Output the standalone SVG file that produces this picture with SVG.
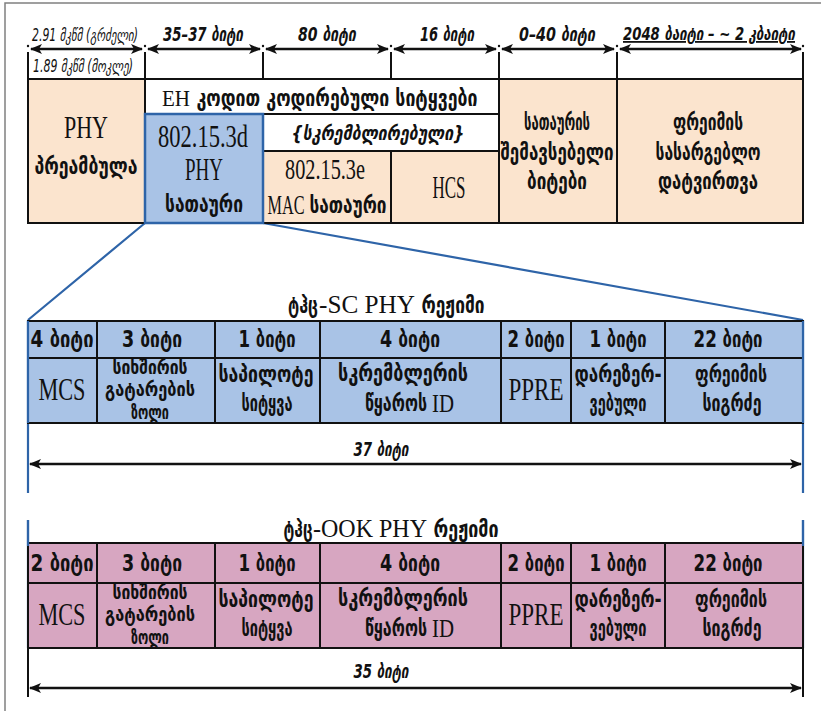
<svg xmlns="http://www.w3.org/2000/svg" width="821" height="711" viewBox="0 0 821 711">
<style>
.ge{font-family:'DejaVu Sans Condensed','DejaVu Sans',sans-serif;font-weight:bold;font-size:23px;fill:#111;text-anchor:middle}
.gs{font-size:20px}
.g3{font-size:19px}
.it{font-style:italic}
.lt{font-weight:normal;font-size:17px}
.tm{font-family:'Liberation Serif','Times New Roman',serif;font-weight:normal;font-size:31px;fill:#111;text-anchor:middle}
.tt{font-size:26px}
.peach{fill:#FBE4CE;stroke:#111;stroke-width:2}
.white{fill:#fff;stroke:#111;stroke-width:2}
.blue{fill:#A9C3E6;stroke:#111;stroke-width:2}
.pink{fill:#D7A6C1;stroke:#111;stroke-width:2}
.ln{stroke:#111;stroke-width:2;fill:none}
.bl{stroke:#2E64A8;stroke-width:2.2;fill:none}
.arr{stroke:#111;stroke-width:2.5;fill:none;marker-start:url(#ah);marker-end:url(#ah)}
</style>
<defs>
<marker id="ah" viewBox="0 0 12 10" refX="11" refY="5" markerWidth="13" markerHeight="10" markerUnits="userSpaceOnUse" orient="auto-start-reverse"><path d="M0,0 L12,5 L0,10 L3,5 z" fill="#111"/></marker>
</defs>
<rect width="821" height="711" fill="#fff"/>
<path d="M5,711 V3 H821" fill="none" stroke="#808080" stroke-width="1.5"/>

<g id="top-dimensions">
<g fill="#111"><circle cx="28" cy="46" r="1.2"/><circle cx="145" cy="46" r="1.2"/><circle cx="263" cy="46" r="1.2"/><circle cx="391" cy="46" r="1.2"/><circle cx="499" cy="46" r="1.2"/><circle cx="617" cy="46" r="1.2"/><circle cx="803" cy="46" r="1.2"/></g>
<path class="ln" d="M28,52 V79 M145,52 V79 M263,52 V79 M391,52 V79 M499,52 V79 M617,52 V79 M803,52 V79"/>
<text class="ge it lt" x="85" y="41" textLength="106" lengthAdjust="spacingAndGlyphs">2.91 მკწმ (გრძელი)</text>
<text class="ge it lt" x="83" y="72" textLength="100" lengthAdjust="spacingAndGlyphs">1.89 მკწმ (მოკლე)</text>
<text class="ge it gs" x="203" y="41" textLength="80" lengthAdjust="spacingAndGlyphs">35–37 ბიტი</text>
<text class="ge it gs" x="327" y="41" textLength="58" lengthAdjust="spacingAndGlyphs">80 ბიტი</text>
<text class="ge it gs" x="447" y="41" textLength="54" lengthAdjust="spacingAndGlyphs">16 ბიტი</text>
<text class="ge it gs" x="557" y="41" textLength="76" lengthAdjust="spacingAndGlyphs">0–40 ბიტი</text>
<text class="ge it" x="709" y="40" textLength="172" lengthAdjust="spacingAndGlyphs" style="font-size:18px;text-decoration:underline">2048 ბაიტი – ~ 2 კბაიტი</text>
</g>

<g id="connectors">
<path class="arr" d="M31,49 H142"/>
<path class="arr" d="M148,49 H260"/>
<path class="arr" d="M266,49 H388"/>
<path class="arr" d="M394,49 H496"/>
<path class="arr" d="M502,49 H614"/>
<path class="arr" d="M620,49 H801"/>
<path class="bl" d="M145,223 L28,320 M263,223 L803,320"/>
<path class="bl" d="M28,320 V493 M803,320 V493"/>
<path class="arr" d="M30,464 H801"/>
<path class="bl" d="M28,520 V648 M803,520 V648"/>
<path class="ln" d="M28,648 V697 M803,648 V697"/>
<path class="arr" d="M30,688 H801"/>
</g>

<g id="row-label-line"><path class="ln" d="M28,79 H803"/></g>

<g id="phy-preamble">
<rect class="peach" x="28" y="79" width="117" height="144"/>
<text class="tm" x="86" y="138" textLength="44" lengthAdjust="spacingAndGlyphs">PHY</text>
<text class="ge" x="86" y="174" textLength="103" lengthAdjust="spacingAndGlyphs">პრეამბულა</text>
</g>
<g id="eh-coded">
<rect class="white" x="145" y="79" width="354" height="35"/>
<text class="tm" x="176" y="106" textLength="28" lengthAdjust="spacingAndGlyphs" style="font-size:23px">EH</text>
<text class="ge" x="337" y="106" textLength="281" lengthAdjust="spacingAndGlyphs">კოდით კოდირებული სიტყვები</text>
</g>
<g id="scrambled">
<rect class="white" x="263" y="114" width="236" height="37"/>
<text class="ge it gs" x="378" y="140" textLength="173" lengthAdjust="spacingAndGlyphs">{სკრემბლირებული}</text>
</g>
<g id="mac-header">
<rect class="peach" x="263" y="151" width="128" height="72"/>
<text class="tm" x="325" y="179" textLength="80" lengthAdjust="spacingAndGlyphs" style="font-size:29px">802.15.3e</text>
<text class="tm" x="286" y="214" textLength="37" lengthAdjust="spacingAndGlyphs" style="font-size:27px">MAC</text>
<text class="ge" x="348" y="213" textLength="77" lengthAdjust="spacingAndGlyphs">სათაური</text>
</g>
<g id="hcs">
<rect class="peach" x="391" y="151" width="108" height="72"/>
<text class="tm" x="449" y="198" textLength="33" lengthAdjust="spacingAndGlyphs">HCS</text>
</g>
<g id="header-padding">
<rect class="peach" x="499" y="79" width="118" height="144"/>
<text class="ge" x="557" y="130" textLength="66" lengthAdjust="spacingAndGlyphs">სათაურის</text>
<text class="ge" x="557" y="160" textLength="113" lengthAdjust="spacingAndGlyphs">შემავსებელი</text>
<text class="ge" x="557" y="189" textLength="60" lengthAdjust="spacingAndGlyphs">ბიტები</text>
</g>
<g id="frame-payload">
<rect class="peach" x="617" y="79" width="186" height="144"/>
<text class="ge" x="708" y="130" textLength="70" lengthAdjust="spacingAndGlyphs">ფრეიმის</text>
<text class="ge" x="708" y="160" textLength="105" lengthAdjust="spacingAndGlyphs">სასარგებლო</text>
<text class="ge" x="708" y="189" textLength="100" lengthAdjust="spacingAndGlyphs">დატვირთვა</text>
</g>
<g id="phy-header">
<rect x="145" y="114" width="118" height="109" fill="#A9C3E6" stroke="#2E64A8" stroke-width="2.5"/>
<text class="tm" x="203" y="147" textLength="90" lengthAdjust="spacingAndGlyphs">802.15.3d</text>
<text class="tm" x="204" y="180" textLength="38" lengthAdjust="spacingAndGlyphs">PHY</text>
<text class="ge" x="204" y="212" textLength="78" lengthAdjust="spacingAndGlyphs">სათაური</text>
</g>

<g id="sc-mode">
<text class="ge" x="303" y="313" textLength="30" lengthAdjust="spacingAndGlyphs">ტჰც</text>
<text class="tm tt" x="367" y="313" textLength="96" lengthAdjust="spacingAndGlyphs">-SC PHY</text>
<text class="ge" x="453" y="313" textLength="63" lengthAdjust="spacingAndGlyphs">რეჟიმი</text>
<g id="sc-mcs"><rect class="blue" x="28" y="321" width="69" height="37"/><rect class="blue" x="28" y="358" width="69" height="65"/>
<text class="ge" x="62" y="347" textLength="63" lengthAdjust="spacingAndGlyphs">4 ბიტი</text>
<text class="tm" x="62" y="400" textLength="47" lengthAdjust="spacingAndGlyphs">MCS</text></g>
<g id="sc-band"><rect class="blue" x="97" y="321" width="118" height="37"/><rect class="blue" x="97" y="358" width="118" height="65"/>
<text class="ge" x="152" y="347" textLength="60" lengthAdjust="spacingAndGlyphs">3 ბიტი</text>
<text class="ge g3" x="150" y="374" textLength="75" lengthAdjust="spacingAndGlyphs">სიხშირის</text>
<text class="ge g3" x="150" y="396" textLength="90" lengthAdjust="spacingAndGlyphs">გატარების</text>
<text class="ge g3" x="150" y="419" textLength="38" lengthAdjust="spacingAndGlyphs">ზოლი</text></g>
<g id="sc-pilot"><rect class="blue" x="215" y="321" width="105" height="37"/><rect class="blue" x="215" y="358" width="105" height="65"/>
<text class="ge" x="267" y="347" textLength="57" lengthAdjust="spacingAndGlyphs">1 ბიტი</text>
<text class="ge" x="266" y="382" textLength="95" lengthAdjust="spacingAndGlyphs">საპილოტე</text>
<text class="ge" x="267" y="411" textLength="51" lengthAdjust="spacingAndGlyphs">სიტყვა</text></g>
<g id="sc-scrambler"><rect class="blue" x="320" y="321" width="181" height="37"/><rect class="blue" x="320" y="358" width="181" height="65"/>
<text class="ge" x="410" y="347" textLength="60" lengthAdjust="spacingAndGlyphs">4 ბიტი</text>
<text class="ge" x="403" y="381" textLength="130" lengthAdjust="spacingAndGlyphs">სკრემბლერის</text>
<text class="ge" x="396" y="411" textLength="62" lengthAdjust="spacingAndGlyphs">წყაროს</text>
<text class="tm" x="443" y="412" textLength="22" lengthAdjust="spacingAndGlyphs" style="font-size:25px">ID</text></g>
<g id="sc-ppre"><rect class="blue" x="501" y="321" width="70" height="37"/><rect class="blue" x="501" y="358" width="70" height="65"/>
<text class="ge" x="536" y="347" textLength="57" lengthAdjust="spacingAndGlyphs">2 ბიტი</text>
<text class="tm" x="536" y="400" textLength="55" lengthAdjust="spacingAndGlyphs">PPRE</text></g>
<g id="sc-reserved"><rect class="blue" x="571" y="321" width="94" height="37"/><rect class="blue" x="571" y="358" width="94" height="65"/>
<text class="ge" x="618" y="347" textLength="57" lengthAdjust="spacingAndGlyphs">1 ბიტი</text>
<text class="ge" x="618" y="382" textLength="87" lengthAdjust="spacingAndGlyphs">დარეზერ-</text>
<text class="ge" x="618" y="411" textLength="57" lengthAdjust="spacingAndGlyphs">ვებული</text></g>
<g id="sc-length"><rect class="blue" x="665" y="321" width="138" height="37"/><rect class="blue" x="665" y="358" width="138" height="65"/>
<text class="ge" x="728" y="347" textLength="69" lengthAdjust="spacingAndGlyphs">22 ბიტი</text>
<text class="ge" x="731" y="382" textLength="72" lengthAdjust="spacingAndGlyphs">ფრეიმის</text>
<text class="ge" x="732" y="411" textLength="59" lengthAdjust="spacingAndGlyphs">სიგრძე</text></g>
<path class="bl" d="M28,321 V423 M803,321 V423"/>
<text class="ge it gs" x="381" y="456" textLength="55" lengthAdjust="spacingAndGlyphs">37 ბიტი</text>
</g>

<g id="ook-mode">
<text class="ge" x="298" y="537" textLength="29" lengthAdjust="spacingAndGlyphs">ტჰც</text>
<text class="tm tt" x="370" y="537" textLength="114" lengthAdjust="spacingAndGlyphs">-OOK PHY</text>
<text class="ge" x="466" y="537" textLength="65" lengthAdjust="spacingAndGlyphs">რეჟიმი</text>
<g id="ook-mcs"><rect class="pink" x="28" y="543" width="69" height="40"/><rect class="pink" x="28" y="583" width="69" height="65"/>
<text class="ge" x="62" y="571" textLength="63" lengthAdjust="spacingAndGlyphs">2 ბიტი</text>
<text class="tm" x="62" y="625" textLength="47" lengthAdjust="spacingAndGlyphs">MCS</text></g>
<g id="ook-band"><rect class="pink" x="97" y="543" width="118" height="40"/><rect class="pink" x="97" y="583" width="118" height="65"/>
<text class="ge" x="152" y="571" textLength="60" lengthAdjust="spacingAndGlyphs">3 ბიტი</text>
<text class="ge g3" x="150" y="599" textLength="75" lengthAdjust="spacingAndGlyphs">სიხშირის</text>
<text class="ge g3" x="150" y="621" textLength="90" lengthAdjust="spacingAndGlyphs">გატარების</text>
<text class="ge g3" x="150" y="644" textLength="38" lengthAdjust="spacingAndGlyphs">ზოლი</text></g>
<g id="ook-pilot"><rect class="pink" x="215" y="543" width="105" height="40"/><rect class="pink" x="215" y="583" width="105" height="65"/>
<text class="ge" x="267" y="571" textLength="57" lengthAdjust="spacingAndGlyphs">1 ბიტი</text>
<text class="ge" x="266" y="607" textLength="95" lengthAdjust="spacingAndGlyphs">საპილოტე</text>
<text class="ge" x="267" y="636" textLength="51" lengthAdjust="spacingAndGlyphs">სიტყვა</text></g>
<g id="ook-scrambler"><rect class="pink" x="320" y="543" width="181" height="40"/><rect class="pink" x="320" y="583" width="181" height="65"/>
<text class="ge" x="410" y="571" textLength="60" lengthAdjust="spacingAndGlyphs">4 ბიტი</text>
<text class="ge" x="403" y="606" textLength="130" lengthAdjust="spacingAndGlyphs">სკრემბლერის</text>
<text class="ge" x="396" y="636" textLength="62" lengthAdjust="spacingAndGlyphs">წყაროს</text>
<text class="tm" x="443" y="637" textLength="22" lengthAdjust="spacingAndGlyphs" style="font-size:25px">ID</text></g>
<g id="ook-ppre"><rect class="pink" x="501" y="543" width="70" height="40"/><rect class="pink" x="501" y="583" width="70" height="65"/>
<text class="ge" x="536" y="571" textLength="57" lengthAdjust="spacingAndGlyphs">2 ბიტი</text>
<text class="tm" x="536" y="625" textLength="55" lengthAdjust="spacingAndGlyphs">PPRE</text></g>
<g id="ook-reserved"><rect class="pink" x="571" y="543" width="94" height="40"/><rect class="pink" x="571" y="583" width="94" height="65"/>
<text class="ge" x="618" y="571" textLength="57" lengthAdjust="spacingAndGlyphs">1 ბიტი</text>
<text class="ge" x="618" y="607" textLength="87" lengthAdjust="spacingAndGlyphs">დარეზერ-</text>
<text class="ge" x="618" y="636" textLength="57" lengthAdjust="spacingAndGlyphs">ვებული</text></g>
<g id="ook-length"><rect class="pink" x="665" y="543" width="138" height="40"/><rect class="pink" x="665" y="583" width="138" height="65"/>
<text class="ge" x="728" y="571" textLength="69" lengthAdjust="spacingAndGlyphs">22 ბიტი</text>
<text class="ge" x="731" y="607" textLength="72" lengthAdjust="spacingAndGlyphs">ფრეიმის</text>
<text class="ge" x="732" y="636" textLength="59" lengthAdjust="spacingAndGlyphs">სიგრძე</text></g>
<path class="bl" d="M28,520 V546 M803,520 V546"/>
<text class="ge it gs" x="381" y="678" textLength="55" lengthAdjust="spacingAndGlyphs">35 ბიტი</text>
</g>
</svg>
